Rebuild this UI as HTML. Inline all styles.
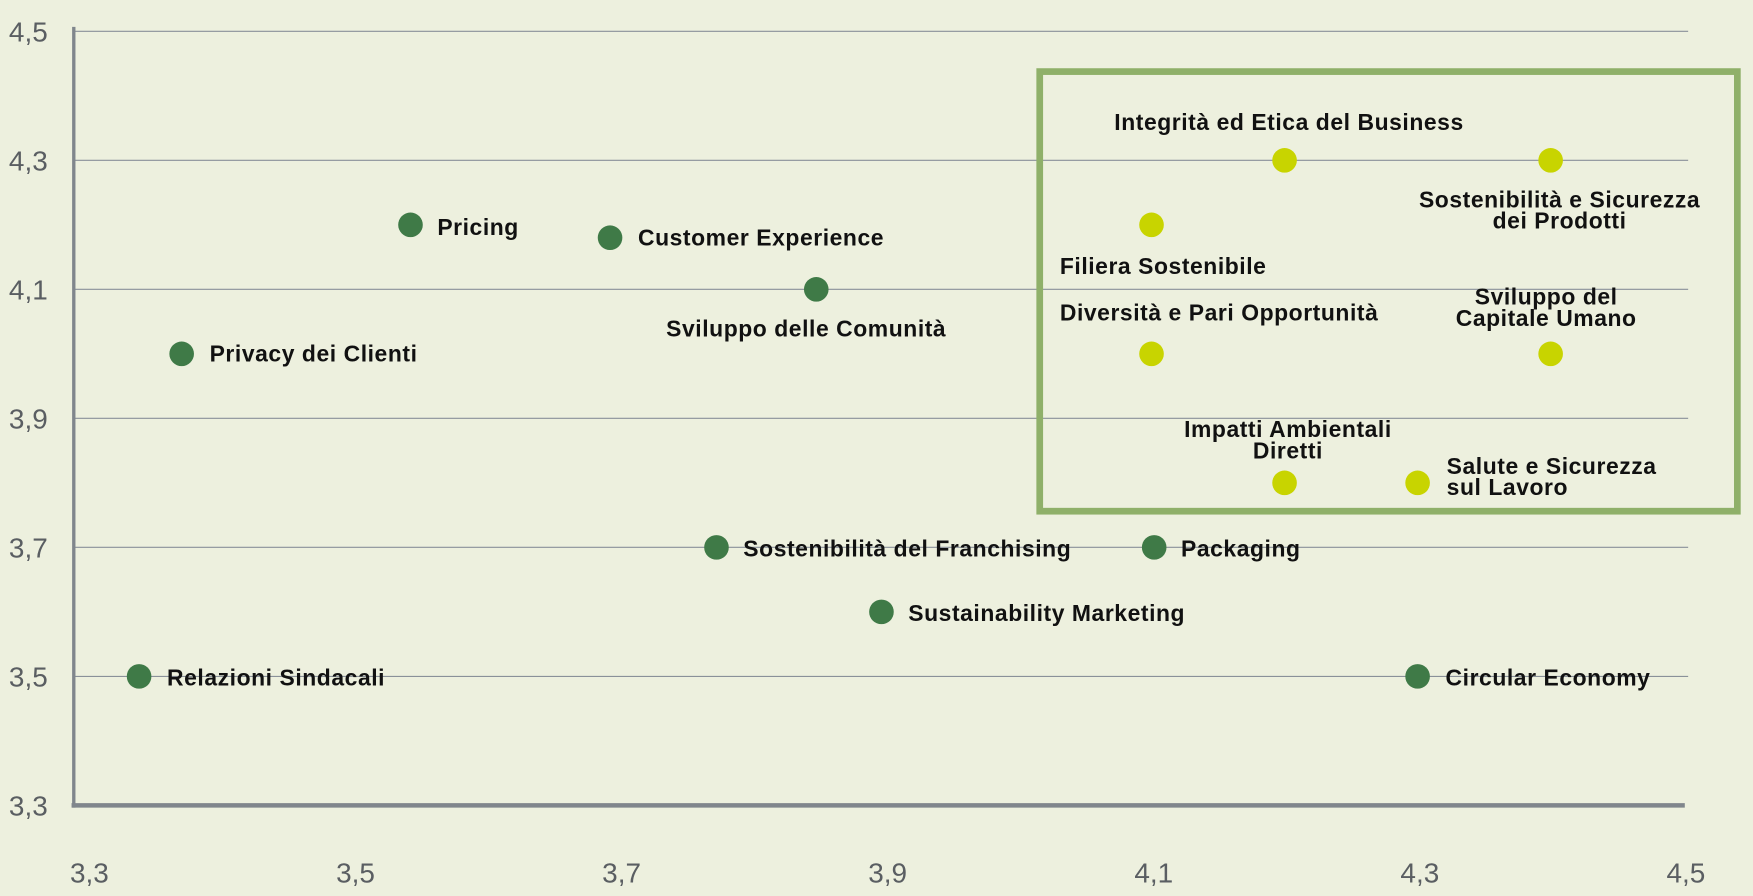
<!DOCTYPE html>
<html><head><meta charset="utf-8"><style>
html,body{margin:0;padding:0;background:#edf0de;}
svg{display:block;}
text{font-family:"Liberation Sans",sans-serif;}
</style></head><body>
<svg id="chart" width="1753" height="896" viewBox="0 0 1568 801" preserveAspectRatio="none" xmlns="http://www.w3.org/2000/svg">
<rect x="0" y="0" width="1568" height="801" fill="#edf0de"/>
<g id="grid"></g><g id="axes"></g>
<rect x="930" y="64" width="624" height="393" fill="none" stroke="#8fb069" stroke-width="6"/>
<g id="marks"></g>
</svg>
<script>
const yTicks = [3.3, 3.5, 3.7, 3.9, 4.1, 4.3, 4.5];
const yTickLabels = ["3,3", "3,5", "3,7", "3,9", "4,1", "4,3", "4,5"];
const xTicks = [3.3, 3.5, 3.7, 3.9, 4.1, 4.3, 4.5];
const xTickLabels = ["3,3", "3,5", "3,7", "3,9", "4,1", "4,3", "4,5"];
const names = ["Pricing","Customer Experience","Sviluppo delle Comunità","Privacy dei Clienti","Relazioni Sindacali","Sostenibilità del Franchising","Sustainability Marketing","Packaging","Circular Economy","Integrità ed Etica del Business","Sostenibilità e Sicurezza|dei Prodotti","Filiera Sostenibile","Diversità e Pari Opportunità","Sviluppo del|Capitale Umano","Impatti Ambientali|Diretti","Salute e Sicurezza|sul Lavoro"];
const xValues = [3.543,3.693,3.848,3.371,3.339,3.773,3.897,4.102,4.3,4.2,4.4,4.1,4.1,4.4,4.2,4.3];
const yValues = [4.2,4.18,4.1,4.0,3.5,3.7,3.6,3.7,3.5,4.3,4.3,4.2,4.0,4.0,3.8,3.8];
const highlighted = [0,0,0,0,0,0,0,0,0,1,1,1,1,1,1,1];
const labelDx = [24,25,-9,25,25,24,24,24,25,4,8,-82,-82,-4,3,26];
const labelDy = [2,0,35,0,1,1,1,1,1,-34,35,37,-37,-51,-48,-15];
const labelAnchor = ["start","start","middle","start","start","start","start","start","start","middle","middle","start","start","middle","middle","start"];

const X0=78, X1=1506, Y0=720, Y1=28;
const xs = v => X0 + (v-3.3)/(4.5-3.3)*(X1-X0);
const ys = v => Y0 - (v-3.3)/(4.5-3.3)*(Y0-Y1);
const NS="http://www.w3.org/2000/svg";
function mk(tag, attrs, parent){const e=document.createElementNS(NS,tag);for(const k in attrs)e.setAttribute(k,attrs[k]);parent.appendChild(e);return e;}
const grid=document.getElementById('grid'), axes=document.getElementById('axes'), marks=document.getElementById('marks');

yTicks.forEach((t,i)=>{
  const y=ys(t);
  if(i>0){const l=mk('line',{x1:66,x2:1510,y1:y,y2:y,stroke:'#8a9199','stroke-width':1},grid);
  
  }
  const tx=mk('text',{x:8,y:y+9,'font-size':25,fill:'#5a5e62'},axes);
  tx.textContent=yTickLabels[i];
  
  
});
xTicks.forEach((t,i)=>{
  const tx=mk('text',{x:xs(t)+2,y:789,'font-size':25,fill:'#5a5e62','text-anchor':'middle'},axes);
  tx.textContent=xTickLabels[i];
  
  
});
const ya=mk('line',{x1:66,x2:66,y1:24,y2:722,stroke:'#80868c','stroke-width':3},axes);


const xa=mk('line',{x1:64,x2:1507,y1:720,y2:720,stroke:'#80868c','stroke-width':4},axes);



names.forEach((n,i)=>{
  const cx=xs(xValues[i]), cy=ys(yValues[i]);
  const c=mk('circle',{cx:cx,cy:cy,r:11,fill:highlighted[i]?'#c8d400':'#3f7a47'},marks);
  
  
  const lines=n.split('|');
  lines.forEach((ln,j)=>{
    const t=mk('text',{x:cx+labelDx[i],y:cy+labelDy[i]+7+j*19,'font-size':20.5,'letter-spacing':0.5,'font-weight':'bold',fill:'#111','text-anchor':labelAnchor[i]},marks);
    t.textContent=ln;
    
    
  });
});
</script>
</body></html>
